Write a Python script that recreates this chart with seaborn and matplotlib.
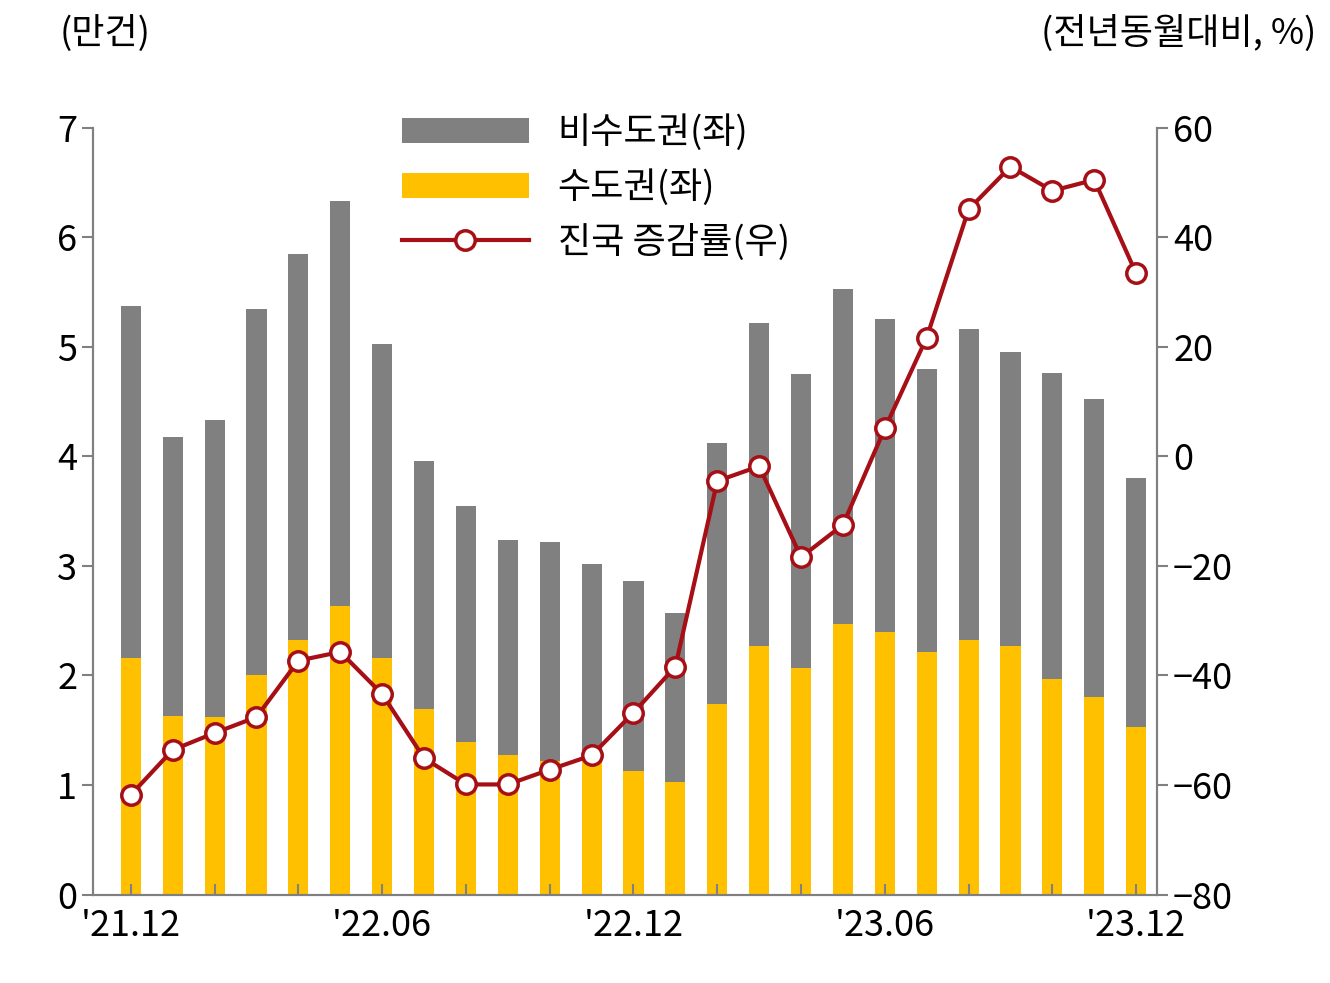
import matplotlib
matplotlib.use("Agg")
import matplotlib.pyplot as plt
import numpy as np
import pandas as pd
import seaborn as sns

plt.rcParams["font.family"] = ["Noto Sans CJK KR", "Noto Sans CJK JP", "Noto Sans CJK SC",
                               "DejaVu Sans"]

months = [f"{y}.{m:02d}" for y, m in
          [(21, 12)] + [(22, m) for m in range(1, 13)] + [(23, m) for m in range(1, 13)]]
total = [5.37, 4.18, 4.33, 5.35, 5.85, 6.33, 5.03, 3.96, 3.55, 3.24, 3.22, 3.02, 2.86,
         2.57, 4.12, 5.22, 4.75, 5.53, 5.25, 4.80, 5.16, 4.95, 4.76, 4.52, 3.80]
capital = [2.16, 1.63, 1.62, 2.00, 2.32, 2.63, 2.16, 1.69, 1.39, 1.27, 1.22, 1.22, 1.13,
           1.03, 1.74, 2.27, 2.07, 2.47, 2.40, 2.21, 2.32, 2.27, 1.97, 1.80, 1.53]
growth = [-61.8, -53.6, -50.5, -47.6, -37.3, -35.7, -43.4, -55.1, -59.9, -59.9, -57.2,
          -54.6, -46.8, -38.4, -4.5, -1.8, -18.4, -12.5, 5.1, 21.7, 45.1, 52.9, 48.5,
          50.5, 33.4]
tick_labels = {0: "'21.12", 6: "'22.06", 12: "'22.12", 18: "'23.06", 24: "'23.12"}

df = pd.DataFrame({"month": months, "total": total, "capital": capital, "growth": growth})
x = np.arange(len(df))

fig, ax = plt.subplots(figsize=(13.3, 9.83), dpi=100)
sns.barplot(x=x, y=df["total"], color="#808080", width=0.48, ax=ax,
            saturation=1, label="비수도권(좌)")
sns.barplot(x=x, y=df["capital"], color="#FFC000", width=0.48, ax=ax,
            saturation=1, label="수도권(좌)")
ax.set_ylim(0, 7)
ax.set_xlim(-0.9, 24.5)
ax.set_yticks(range(8))
ax.set_xticks(range(0, 25, 2))
ax.set_xticklabels([tick_labels.get(i, "") for i in range(0, 25, 2)])
ax.set_xlabel("")
ax.set_ylabel("")

ax2 = ax.twinx()
ax2.plot(x, df["growth"], color="#A50F15", lw=3, marker="o", ms=14,
         mfc="white", mec="#A50F15", mew=2.5, label="진국 증감률(우)")
ax2.set_ylim(-80, 60)
ax2.set_yticks(range(-80, 61, 20))

for a in (ax, ax2):
    a.tick_params(labelsize=26, length=8, width=1.5, color="#808080")
    a.spines["top"].set_visible(False)
    for s in ("left", "right", "bottom"):
        a.spines[s].set_color("#808080")
        a.spines[s].set_linewidth(1.5)
ax.tick_params(axis="x", direction="in", pad=10)

h1, l1 = ax.get_legend_handles_labels()
h2, l2 = ax2.get_legend_handles_labels()
ax.legend(h1 + h2, l1 + l2, loc="upper left", bbox_to_anchor=(0.26, 1.06),
          frameon=False, fontsize=26, handlelength=3.5, labelspacing=0.5)

fig.text(0.045, 0.955, "(만건)", fontsize=26)
fig.text(0.99, 0.955, "(전년동월대비, %)", fontsize=26, ha="right")
fig.subplots_adjust(left=0.07, right=0.87, top=0.87, bottom=0.09)
fig.savefig("out.png", dpi=100)
